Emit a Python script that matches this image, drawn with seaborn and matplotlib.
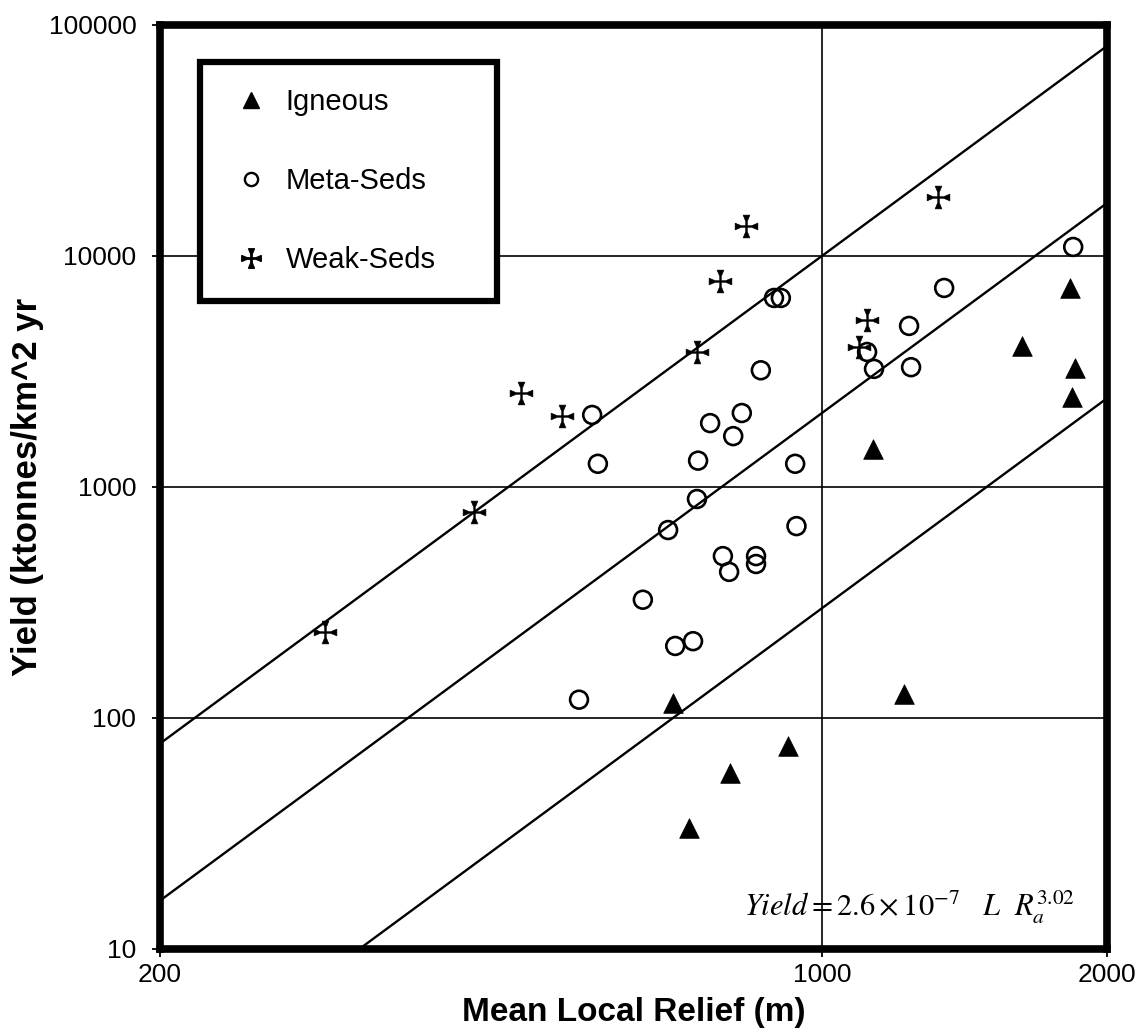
import numpy as np
import pandas as pd
import seaborn as sns
import matplotlib
matplotlib.use("Agg")
import matplotlib.pyplot as plt
from matplotlib.path import Path
from matplotlib.lines import Line2D
from matplotlib.ticker import FixedLocator, LogLocator, NullFormatter

# ---- data ----
igneous_relief = [1828, 1627, 1850, 1835, 1132, 696, 921, 800, 724, 1221]
igneous_yield = [7270, 4060, 3270, 2450, 1460, 116, 76, 58, 33.4, 127]

meta_relief = [572, 580, 862, 823, 762, 806, 740, 937, 738, 688, 940, 786, 798,
               852, 852, 647, 700, 731, 554, 890, 905, 1842, 1346, 1236, 1116,
               1135, 1242]
meta_yield = [2050, 1260, 3200, 2090, 1890, 1660, 1300, 1260, 887, 651, 677,
              502, 429, 502, 464, 325, 205, 215, 120, 6580, 6580, 10940, 7270,
              4980, 3840, 3245, 3300]

weak_relief = [299, 429, 481, 532, 738, 780, 831, 1094, 1116, 1326]
weak_yield = [236, 780, 2550, 2030, 3840, 7800, 13490, 4040, 5290, 18000]

# Yield = 2.6e-7 * L * Ra^3.02, one line per lithology factor L
coef = 2.6e-7
expo = 3.02
lith_factors = [1, 7, 33.5]

x_ticks = [200, 1000, 2000]
y_ticks = [10, 100, 1000, 10000, 100000]

# ---- cross-pattee marker ----
s, f, a = 0.07, 0.30, 0.45
verts = [(s, s), (a, s), (1, f), (1, -f), (a, -s), (s, -s),
         (s, -a), (f, -1), (-f, -1), (-s, -a), (-s, -s),
         (-a, -s), (-1, -f), (-1, f), (-a, s), (-s, s),
         (-s, a), (-f, 1), (f, 1), (s, a), (s, s)]
cross = Path(verts, closed=True)

sns.set_theme(style="white")
plt.rcParams["font.family"] = ["Liberation Sans", "DejaVu Sans"]
plt.rcParams["mathtext.fontset"] = "stix"
plt.rcParams.update({"text.color": "black", "axes.labelcolor": "black",
                     "xtick.color": "black", "ytick.color": "black"})

fig = plt.figure(figsize=(11.36, 10.36), dpi=100)
ax = fig.add_axes([0.1408, 0.084, 0.8337, 0.8919])
ax.set_xscale("log")
ax.set_yscale("log")

# model lines
relief = np.logspace(np.log10(200), np.log10(2000), 200)
for L in lith_factors:
    line_df = pd.DataFrame({"relief": relief, "yield": coef * L * relief ** expo})
    sns.lineplot(data=line_df, x="relief", y="yield", color="black", lw=1.7, ax=ax)

ign = pd.DataFrame({"relief": igneous_relief, "yield": igneous_yield})
met = pd.DataFrame({"relief": meta_relief, "yield": meta_yield})
wek = pd.DataFrame({"relief": weak_relief, "yield": weak_yield})

sns.scatterplot(data=met, x="relief", y="yield", marker="o", s=165,
                color="none", edgecolor="black", linewidth=1.9, ax=ax, zorder=4)
sns.scatterplot(data=ign, x="relief", y="yield", marker="^", s=200,
                color="black", edgecolor="black", linewidth=0.5, ax=ax, zorder=4)
sns.scatterplot(data=wek, x="relief", y="yield", marker=cross, s=270,
                color="black", edgecolor="black", linewidth=0.4, ax=ax, zorder=5)

ax.set_xlim(200, 2000)
ax.set_ylim(10, 100000)

ax.xaxis.set_major_locator(FixedLocator(x_ticks))
ax.xaxis.set_minor_locator(FixedLocator([]))
ax.set_xticklabels([str(t) for t in x_ticks])
ax.yaxis.set_major_locator(FixedLocator(y_ticks))
ax.yaxis.set_minor_locator(LogLocator(base=10, subs=np.arange(2, 10)))
ax.yaxis.set_minor_formatter(NullFormatter())
ax.set_yticklabels([str(t) for t in y_ticks])

ax.tick_params(axis="both", which="major", direction="out", length=6, width=1.3,
               labelsize=19, bottom=True, left=True)
ax.tick_params(axis="y", which="major", pad=11)
ax.tick_params(axis="x", which="major", pad=4)
ax.tick_params(axis="y", which="minor", direction="out", length=2, width=1,
               left=True)

ax.grid(True, which="major", color="black", lw=1.2)
for sp in ax.spines.values():
    sp.set_linewidth(5.5)
    sp.set_color("black")
    sp.set_zorder(6)

ax.set_xlabel("Mean Local Relief (m)", fontsize=24, fontweight="bold", labelpad=7)
ax.set_ylabel("Yield (ktonnes/km^2 yr", fontsize=25, fontweight="bold", labelpad=3)

handles = [
    Line2D([], [], ls="none", marker="^", ms=11, color="black"),
    Line2D([], [], ls="none", marker="o", ms=9.5, mfc="none", mec="black", mew=1.7),
    Line2D([], [], ls="none", marker=cross, ms=14, color="black"),
]
leg = ax.legend(handles, ["Igneous", "Meta-Seds", "Weak-Seds"],
                bbox_to_anchor=(0.042, 0.7045, 0.314, 0.2555), loc="upper left",
                mode="expand", borderaxespad=0, fontsize=21, labelspacing=1.75,
                borderpad=0.9, handletextpad=0.35, handlelength=1.7,
                fancybox=False, framealpha=1)
leg.get_frame().set_edgecolor("black")
leg.get_frame().set_linewidth(4.5)
leg.set_zorder(7)

ax.text(0.966, 0.036, r"$\mathit{Yield} = 2.6\times10^{-7}\ \ \ L\ \ R_a^{3.02}$",
        transform=ax.transAxes, ha="right", va="baseline", fontsize=22, zorder=7)

fig.savefig("out.png", dpi=100)
